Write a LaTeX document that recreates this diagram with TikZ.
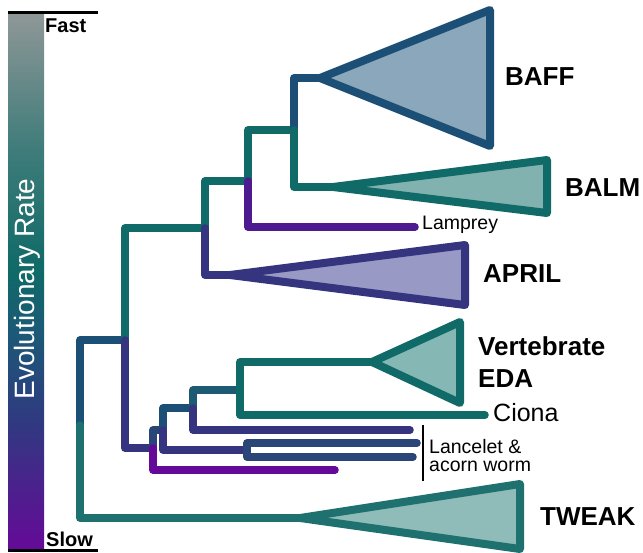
\documentclass[tikz,border=0pt]{standalone}
\usepackage{fontspec}
\setmainfont{Liberation Sans}
\usepackage{tikz}

\definecolor{cTeal}{HTML}{0F6A68}
\definecolor{cTealB}{HTML}{1F716F}
\definecolor{cBlue}{HTML}{1C4F75}
\definecolor{cBlueTeal}{HTML}{1D5A74}
\definecolor{cNavy}{HTML}{2A4679}
\definecolor{cIndigo}{HTML}{35357F}
\definecolor{cPurple}{HTML}{4E1A8F}
\definecolor{cViolet}{HTML}{650A98}
\definecolor{fBaff}{HTML}{8BA7BB}
\definecolor{fBalm}{HTML}{82B2AF}
\definecolor{fApril}{HTML}{9899C5}
\definecolor{fEda}{HTML}{85B8B5}
\definecolor{fTweak}{HTML}{8FBBB8}
\definecolor{barGray}{HTML}{8F9797}
\definecolor{barMid}{HTML}{3E7C7A}
\definecolor{barBlue}{HTML}{1B5A76}
\definecolor{barIndigo}{HTML}{2F3A80}

\pgfdeclareverticalshading{ratebar}{100bp}{color(0bp)=(cViolet); color(25bp)=(cViolet);
  color(37bp)=(barIndigo); color(45.4bp)=(barBlue); color(51bp)=(cTeal);
  color(62.2bp)=(barMid); color(75bp)=(barGray); color(100bp)=(barGray)}

\begin{document}
\begin{tikzpicture}[
  x=1pt, y=-1pt,
  branch/.style={line width=7.5pt, line cap=round, line join=round},
  clade/.style={line width=8pt, line join=round},
  group/.style={anchor=west, inner sep=0pt, font=\fontsize{26}{32}\selectfont\bfseries},
  leaf/.style={anchor=west, inner sep=0pt, font=\fontsize{19.5}{18}\selectfont},
  scalelbl/.style={anchor=west, inner sep=0pt, font=\fontsize{20}{20}\selectfont\bfseries},
]
  \useasboundingbox (0,0) rectangle (643,553);

  % Rate bar
  \shade[shading=ratebar] (8,13) rectangle (44,549);
  \draw[line width=3pt] (8,13) -- (98,13);
  \draw[line width=3pt] (8,550) -- (98,550);
  \node[scalelbl] (fast) at (45,26) {Fast};
  \node[scalelbl] (slow) at (46,539) {Slow};
  \node[rotate=90, text=white, inner sep=0pt, font=\fontsize{28}{28}\selectfont] (rate) at (27,289) {Evolutionary Rate};

  % Branch points
  \coordinate (root) at (80,425);
  \coordinate (nA) at (125,340);
  \coordinate (nB) at (205,228);
  \coordinate (nC) at (248,181);
  \coordinate (nD) at (294,130);
  \coordinate (n1) at (153,448);
  \coordinate (n2) at (163,430);
  \coordinate (n3) at (193,408);
  \coordinate (n4) at (240,390);
  \coordinate (n5) at (247,450);

  % Clade tips and leaves
  \coordinate (baff) at (320,78);
  \coordinate (balm) at (333,187);
  \coordinate (april) at (230,275);
  \coordinate (eda) at (372,362);
  \coordinate (tweak) at (300,518);
  \coordinate (lamprey) at (415,227);
  \coordinate (ciona) at (485,415);
  \coordinate (lanc1) at (417,443);
  \coordinate (lanc2) at (413,457);
  \coordinate (leafc) at (410,430);
  \coordinate (leafd) at (335,470);

  % Triangles
  \draw[clade, draw=cBlue, fill=fBaff] (baff) -- (490,10) -- (490,146) -- cycle;
  \draw[clade, draw=cTeal, fill=fBalm] (balm) -- (547,160) -- (547,213) -- cycle;
  \draw[clade, draw=cIndigo, fill=fApril] (april) -- (465,245) -- (465,305) -- cycle;
  \draw[clade, draw=cTeal, fill=fEda] (eda) -- (460,322) -- (460,403) -- cycle;
  \draw[clade, draw=cTealB, fill=fTweak] (tweak) -- (520,484) -- (520,549) -- cycle;

  % Branches
  \draw[branch, cBlue] (root) |- (nA);
  \draw[branch, cTealB] (root) |- (tweak);
  \draw[branch, cTeal] (nA) |- (nB);
  \draw[branch, cIndigo] (nA) |- (n1);
  \draw[branch, cTeal] (nB) |- (nC);
  \draw[branch, cIndigo] (nB) |- (april);
  \draw[branch, cTeal] (nC) |- (nD);
  \draw[branch, cPurple] (nC) |- (lamprey);
  \draw[branch, cBlue] (nD) |- (baff);
  \draw[branch, cTeal] (nD) |- (balm);
  \draw[branch, cNavy] (n1) |- (n2);
  \draw[branch, cViolet] (n1) |- (leafd);
  \draw[branch, cBlue] (n2) |- (n3);
  \draw[branch, cIndigo] (n2) |- (n5);
  \draw[branch, cBlueTeal] (n3) |- (n4);
  \draw[branch, cIndigo] (n3) |- (leafc);
  \draw[branch, cTeal] (n4) |- (eda);
  \draw[branch, cTeal] (n4) |- (ciona);
  \draw[branch, cNavy] (n5) |- (lanc1);
  \draw[branch, cNavy] (n5) |- (lanc2);

  % Labels
  \node[group] (baffl) at (505,77) {BAFF};
  \node[group] (balml) at (565,188) {BALM};
  \node[group] (aprill) at (483,274) {APRIL};
  \node[group, align=left] (edal) at (478,362) {Vertebrate\\EDA};
  \node[group] (tweakl) at (540,517) {TWEAK};
  \node[leaf] (lampreyl) at (422,225) {Lamprey};
  \node[leaf, font=\fontsize{25}{25}\selectfont] (cional) at (493,413) {Ciona};
  \node[leaf, align=left] (lancl) at (429,456) {Lancelet \&\\acorn worm};
  \draw[line width=2.5pt] (423,425) -- (423,481);
\end{tikzpicture}
\end{document}
